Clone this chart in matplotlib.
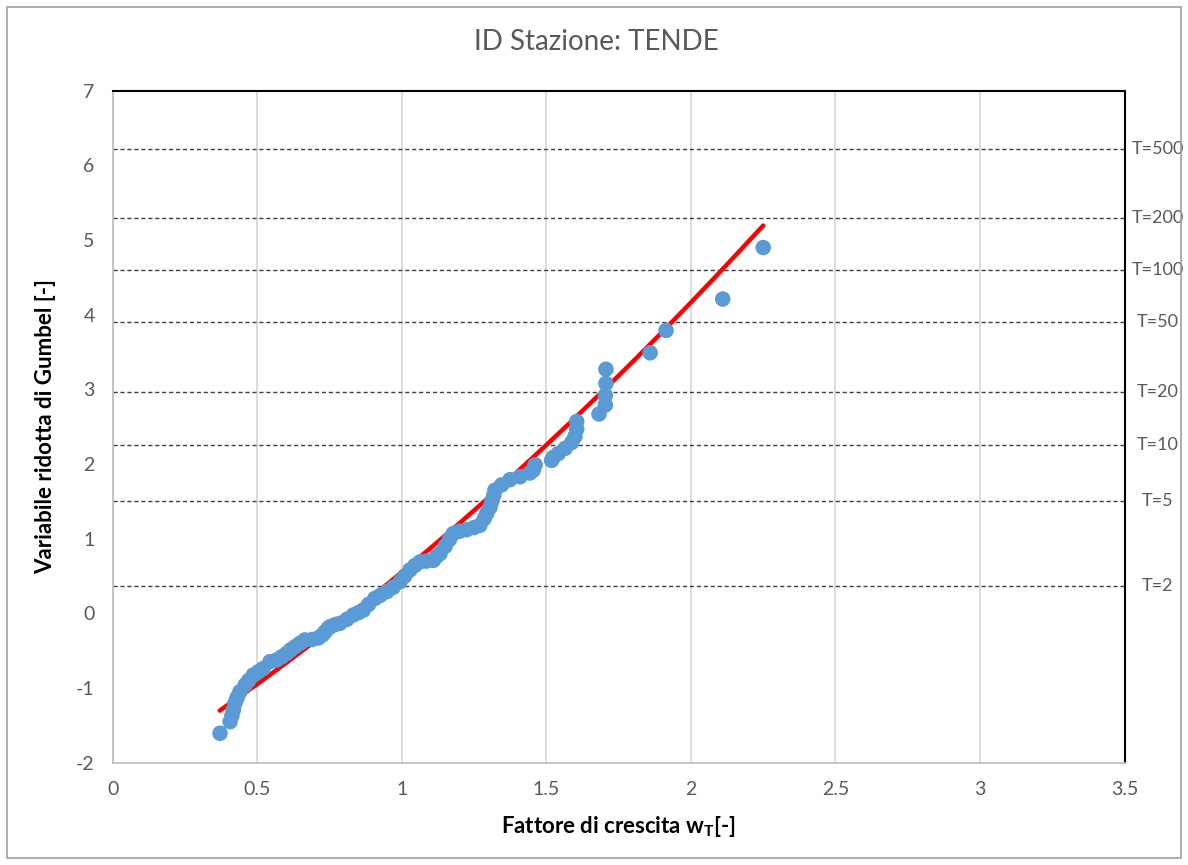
import matplotlib.pyplot as plt
from matplotlib.patches import Rectangle

plt.rcParams['font.family'] = ['Lato', 'DejaVu Sans']
plt.rcParams['axes.unicode_minus'] = False

# osservazioni: fattore di crescita e variabile ridotta di Gumbel
wt_obs = [0.371, 0.406, 0.412, 0.417, 0.423, 0.430, 0.440, 0.458, 0.470, 0.486,
          0.504, 0.520, 0.544, 0.567, 0.585, 0.602, 0.615, 0.631, 0.648, 0.665,
          0.690, 0.711, 0.725, 0.734, 0.745, 0.752, 0.770, 0.786, 0.810, 0.832,
          0.850, 0.867, 0.885, 0.907, 0.925, 0.948, 0.970, 0.994, 1.010, 1.028,
          1.045, 1.063, 1.085, 1.109, 1.120, 1.132, 1.150, 1.165, 1.178, 1.200,
          1.224, 1.250, 1.270, 1.285, 1.294, 1.305, 1.311, 1.318, 1.322, 1.345,
          1.374, 1.409, 1.443, 1.455, 1.461, 1.518, 1.524, 1.541, 1.565, 1.588,
          1.599, 1.605, 1.605, 1.682, 1.704, 1.704, 1.706, 1.706, 1.859, 1.914,
          2.110, 2.250]
y_obs = [-1.606, -1.450, -1.370, -1.294, -1.200, -1.130, -1.050, -0.960, -0.900, -0.826,
         -0.780, -0.740, -0.647, -0.624, -0.580, -0.535, -0.490, -0.446, -0.400, -0.356,
         -0.350, -0.330, -0.290, -0.250, -0.200, -0.178, -0.150, -0.133, -0.080, -0.022,
         0.010, 0.045, 0.120, 0.200, 0.240, 0.290, 0.350, 0.424, 0.500, 0.581,
         0.640, 0.690, 0.700, 0.710, 0.760, 0.800, 0.900, 0.990, 1.070, 1.100,
         1.120, 1.150, 1.180, 1.270, 1.340, 1.420, 1.500, 1.580, 1.650, 1.720,
         1.790, 1.830, 1.880, 1.920, 1.990, 2.050, 2.090, 2.140, 2.210, 2.290,
         2.370, 2.470, 2.570, 2.670, 2.790, 2.920, 3.080, 3.270, 3.490, 3.790,
         4.210, 4.900]

# curva teorica
wt_fit = [0.37, 0.5, 0.6, 0.7, 0.8, 0.9, 1.0, 1.1, 1.2, 1.3, 1.4, 1.5,
          1.6, 1.7, 1.8, 1.9, 2.0, 2.1, 2.25]
y_fit = [-1.303, -0.947, -0.663, -0.372, -0.072, 0.236, 0.552, 0.877, 1.209, 1.550,
         1.899, 2.255, 2.621, 2.994, 3.376, 3.766, 4.164, 4.570, 5.194]

# tempi di ritorno
t_labels = ['T=500', 'T=200', 'T=100', 'T=50', 'T=20', 'T=10', 'T=5', 'T=2']
t_levels = [6.214, 5.296, 4.600, 3.902, 2.970, 2.250, 1.500, 0.367]

x_ticks = [0, 0.5, 1, 1.5, 2, 2.5, 3, 3.5]
x_ticklabels = ['0', '0.5', '1', '1.5', '2', '2.5', '3', '3.5']
y_ticks = [-2, -1, 0, 1, 2, 3, 4, 5, 6, 7]

grey = '#595959'

fig = plt.figure(figsize=(11.88, 8.65), dpi=100)
ax = fig.add_axes([0.0949, 0.1183, 0.8517, 0.7768])

fig.patches.append(Rectangle((0.0055, 0.008), 0.989, 0.984, transform=fig.transFigure,
                             fill=False, edgecolor='#A0A0A0', lw=1.2))

for lev in t_levels:
    ax.axhline(lev, color='#404040', lw=1.0, ls=(0, (3, 2)), zorder=2)

ax.plot(wt_fit, y_fit, color='#FF0000', lw=3.2, solid_capstyle='round', zorder=3)
ax.scatter(wt_obs, y_obs, s=125, color='#5B9BD5', edgecolors='none', zorder=4)

ax.set_xlim(0, 3.5)
ax.set_ylim(-2, 7)
ax.set_xticks(x_ticks)
ax.set_xticklabels(x_ticklabels)
ax.set_yticks(y_ticks)
ax.tick_params(length=0, labelsize=14, labelcolor=grey, pad=13)
ax.xaxis.grid(True, color='#D9D9D9', lw=1.3)
ax.set_axisbelow(True)

for side in ['left', 'bottom']:
    ax.spines[side].set_color('#BFBFBF')
    ax.spines[side].set_linewidth(1.3)
for side in ['top', 'right']:
    ax.spines[side].set_color('black')
    ax.spines[side].set_linewidth(1.5)

for lab, lev in zip(t_labels, t_levels):
    ax.annotate(lab, xy=(1.0, lev), xycoords=('axes fraction', 'data'),
                xytext=(33, 0), textcoords='offset pixels',
                ha='center', va='center', fontsize=13, color=grey)

ax.set_xlabel('Fattore di crescita w$_\\mathregular{T}$[-]', fontsize=16,
              fontweight='bold', labelpad=12)
ax.set_ylabel('Variabile ridotta di Gumbel [-]', fontsize=16,
              fontweight='bold', labelpad=14)
fig.text(0.502, 0.951, 'ID Stazione: TENDE', ha='center', va='center',
         fontsize=20, color=grey)

fig.savefig('out.png', dpi=100)
